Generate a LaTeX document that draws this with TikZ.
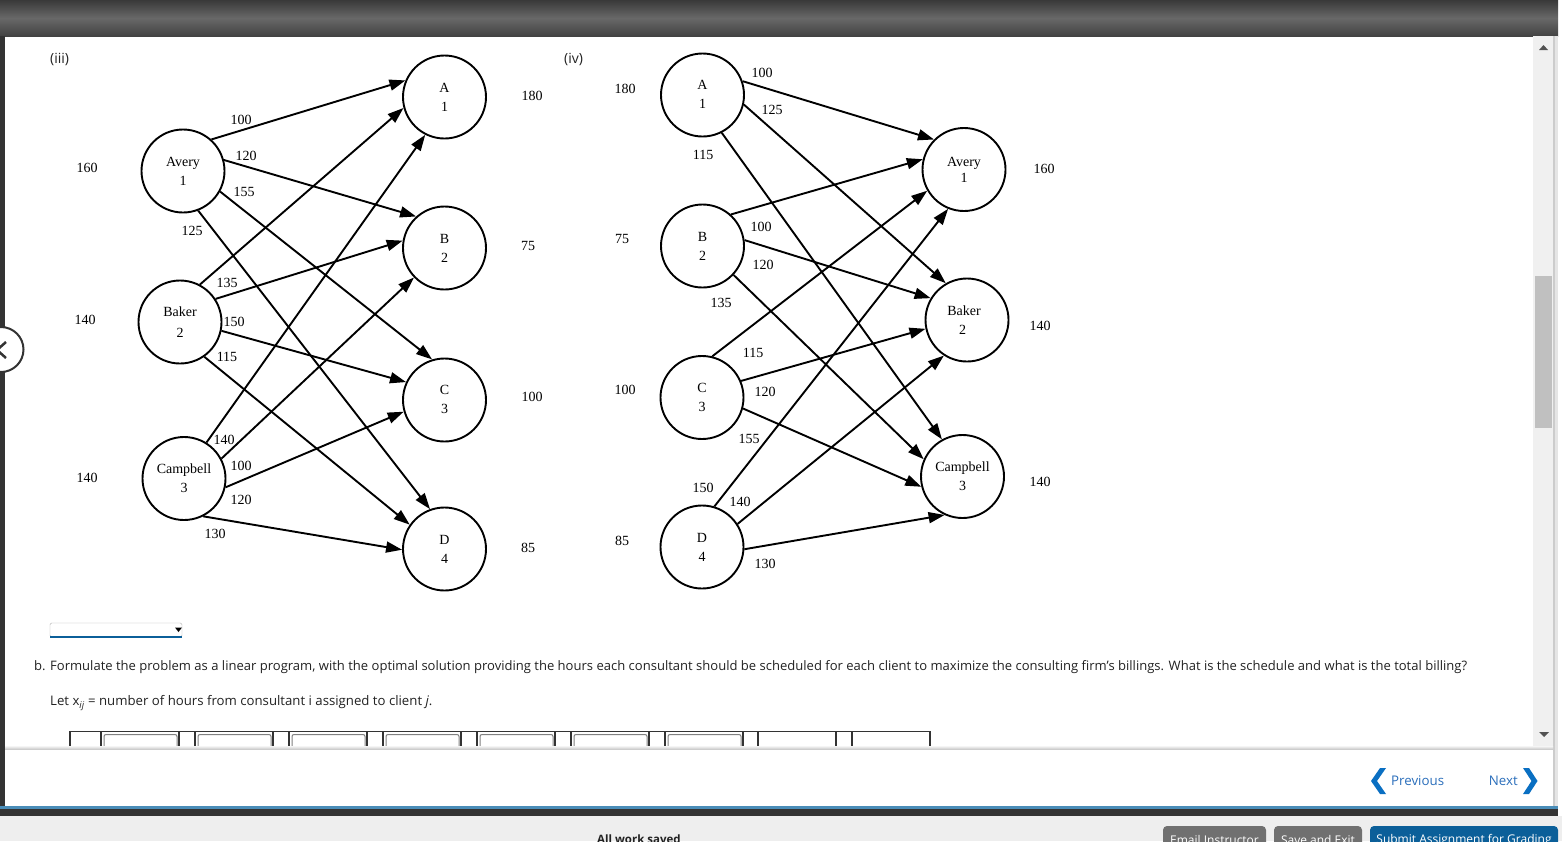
\documentclass[tikz,border=0pt]{standalone}
\usepackage{fontspec}
\setmainfont{Liberation Serif}
\newfontfamily\uifont{Open Sans}
\usetikzlibrary{arrows.meta}
\definecolor{barmid}{HTML}{686868}
\definecolor{bardark}{HTML}{393939}
\definecolor{edgedark}{HTML}{333333}
\definecolor{trackgray}{HTML}{F0F0F0}
\definecolor{thumbgray}{HTML}{C0C0C0}
\definecolor{linkblue}{HTML}{2A6EBB}
\definecolor{chevblue}{HTML}{0A6FC2}
\definecolor{stripblue}{HTML}{4A8DB8}
\definecolor{submitblue}{HTML}{0B5F99}
\definecolor{btngray}{HTML}{707070}
\definecolor{inktext}{HTML}{222222}
\tikzset{
party/.style={circle, draw, line width=1.9pt, fill=white, minimum size=83pt, inner sep=0pt,
  align=center, font=\fontsize{14}{19}\selectfont},
amount/.style={inner sep=0pt, font=\fontsize{14}{16}\selectfont},
flow/.style={line width=1.9pt, -{Triangle[length=16pt,width=11pt]}},
uitext/.style={inner sep=0pt, anchor=west, text=inktext, font=\uifont\fontsize{13.04}{15}\selectfont},
navtext/.style={inner sep=0pt, text=linkblue, font=\uifont\fontsize{13.3}{16}\selectfont},
btntext/.style={inner sep=0pt, text=white, font=\uifont\fontsize{12}{14}\selectfont},
}

\begin{document}
\begin{tikzpicture}[x=1pt, y=-1pt]

\clip (0,0) rectangle (1562,841);
\fill[white] (0,0) rectangle (1562,841);

% page frame
\shade[top color=bardark, bottom color=bardark!80!barmid, middle color=barmid] (0,0) rectangle (1558,36);
\fill[edgedark] (0,36) rectangle (5,806);
\fill[trackgray] (1533,36) rectangle (1553,748);
\fill[thumbgray] (1535,276) rectangle (1552,428);
\fill[black!20] (1553,36) rectangle (1555,806);
\fill[black!10] (1555,36) rectangle (1558,806);
\fill[edgedark!85] (1539,50) -- (1543.5,45) -- (1548,50) -- cycle;
\fill[edgedark!85] (1539,732) -- (1544,737) -- (1549,732) -- cycle;

% back button
\draw[edgedark, line width=2pt, fill=white] (1,349.5) circle (22.5);
\draw[edgedark, line width=2.5pt] (6,342) -- (-3,350) -- (6,358);

% graph on the left
\node[party] (ava) at (183,171) {Avery\\1};
\node[party] (bak) at (180,322) {\raisebox{2pt}{Baker}\\2};
\node[party] (cam) at (184,478.5) {Campbell\\3};
\node[party] (cla) at (444.5,97) {A\\1};
\node[party] (clb) at (444.5,248) {B\\2};
\node[party] (clc) at (444.5,400) {\raisebox{2pt}{C}\\\raisebox{2pt}{3}};
\node[party] (cld) at (444.5,549) {D\\4};

\foreach \from/\a/\to/\b in {ava/48/cla/157.5, ava/15/clb/132, ava/-29/clc/107.6, ava/-69/cld/110,
  bak/62/cla/195.6, bak/33/clb/170, bak/-12/clc/155, bak/-55/cld/145,
  cam/58/cla/243, cam/28/clb/224, cam/-12/clc/196, cam/-63/cld/181} {
\draw[flow] (\from.\a) -- (\to.\b);
};

% graph on the right
\node[party] (rcla) at (702.5,95) {\raisebox{2pt}{A}\\\raisebox{2pt}{1}};
\node[party] (rclb) at (702.5,246) {B\\2};
\node[party] (rclc) at (702,397.5) {C\\3};
\node[party] (rcld) at (702,547) {D\\4};
\node[party] (rava) at (964,169.5) {\raisebox{-3pt}{Avery}\\1};
\node[party] (rbak) at (967,320) {Baker\hspace*{6pt}\\2\hspace*{9pt}};
\node[party] (rcam) at (962.5,476.5) {\raisebox{-6pt}{Campbell}\\\raisebox{-6pt}{3}};

\foreach \from/\a/\to/\b in {rcla/19/rava/135, rcla/-13/rbak/120, rcla/-63/rcam/119,
  rclb/48/rava/166, rclb/8/rbak/149, rclb/-43/rcam/156,
  rclc/76/rava/210, rclc/23.5/rbak/192, rclc/-15/rcam/194,
  rcld/73/rava/248, rcld/33/rbak/237, rcld/-3/rcam/245} {
\draw[flow] (\from.\a) -- (\to.\b);
};

% amounts
\foreach \x/\y/\txt [count=\i] in {87/168/160, 85/320/140, 87/478/140, 532/96/180, 528/246/75, 532/397/100, 528/548/85,
  241/120/100, 246/156/120, 244/192/155, 192/231/125, 227/283/135, 234/322/150, 227/357/115,
  224/440/140, 241/466/100, 241/500/120, 215/534/130,
  625/89/180, 622/239/75, 625/390/100, 622/541/85, 1044/169/160, 1040/326/140, 1040/482/140,
  762/73/100, 772/110/125, 703/155/115, 761/227/100, 763/265/120, 721/303/135,
  753/353/115, 765/392/120, 749/439/155, 703/488/150, 740/502/140, 765/564/130} {
\node[amount] (amt\i) at (\x,\y) {\txt};
};

% question text
\node[uitext, font=\uifont\fontsize{14}{15}\selectfont] (parta) at (50,59.5) {(iii)};
\node[uitext, font=\uifont\fontsize{14}{15}\selectfont] (partb) at (564,59.5) {(iv)};
\draw[black!30, fill=white, rounded corners=1.5pt] (50,623) rectangle (182,637);
\fill[submitblue] (50,636) rectangle (182,638);
\fill[black] (175,627.5) -- (182,627.5) -- (178.5,632) -- cycle;
\node[uitext] (quest) at (34,667) {b. Formulate the problem as a linear program, with the optimal solution providing the hours each consultant should be scheduled for each client to maximize the consulting firm’s billings. What is the schedule and what is the total billing?};
\node[uitext, font=\uifont\fontsize{13.2}{15}\selectfont] (letx) at (50,703) {Let x\textsubscript{\textit{ij}} = number of hours from consultant i assigned to client \textit{j}.};

% table cut off by the footer
\draw[edgedark, line width=1.2pt] (70,731.5) -- (930,731.5);
\foreach \x in {70, 101, 179, 195, 273, 289, 367, 383, 461, 477, 555, 571, 649, 665, 743, 758, 836, 852, 930} {
\draw[edgedark, line width=1.2pt] (\x,731) -- (\x,747);
};
\foreach \x in {104, 198, 292, 386, 480, 574, 668} {
\draw[black!50, line width=1pt, rounded corners=2pt] (\x,747) -- (\x,734.5) -- (\x+73,734.5) -- (\x+73,747);
};

% footer
\shade[top color=black!4, bottom color=black!25] (5,746) rectangle (1553,750);
\fill[white] (5,750) rectangle (1553,806);
\fill[chevblue] (1380,768) -- (1386,768) -- (1377,781) -- (1386,794) -- (1380,794) -- (1371,781) -- cycle;
\fill[chevblue] (1523,768) -- (1529,768) -- (1537.5,781) -- (1529,794) -- (1523,794) -- (1531.5,781) -- cycle;
\node[navtext, anchor=west] (prev) at (1391,781) {Previous};
\node[navtext, anchor=east] (next) at (1518,781) {Next};
\fill[stripblue] (0,806) rectangle (1558,809);
\fill[edgedark] (0,809) rectangle (1558,816);
\fill[black!6.5] (0,816) rectangle (1562,841);
\fill[btngray, rounded corners=4pt] (1163,826) rectangle (1266,850);
\fill[btngray, rounded corners=4pt] (1274,826) rectangle (1362,850);
\fill[submitblue, rounded corners=4pt] (1370,826) rectangle (1558,850);
\node[btntext] (email) at (1214.5,840) {Email Instructor};
\node[btntext] (savee) at (1318,840) {Save and Exit};
\node[btntext] (submit) at (1464,840) {Submit Assignment for Grading};
\node[uitext, font=\uifont\bfseries\fontsize{11.5}{14}\selectfont] (saved) at (597,839) {All work saved};

\end{tikzpicture}
\end{document}
